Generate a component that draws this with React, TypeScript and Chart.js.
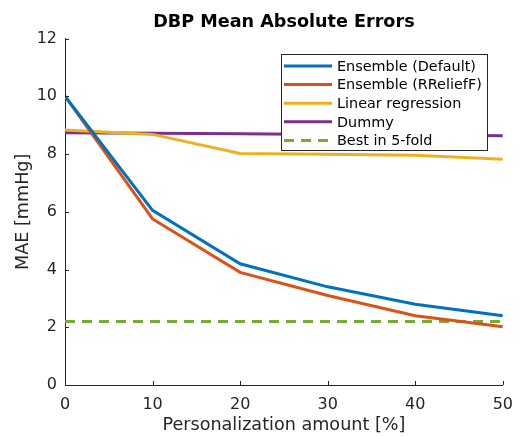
import React, { useEffect, useRef } from 'react';
import { Chart, registerables } from 'chart.js';

Chart.register(...registerables);

const xValues = [0, 10, 20, 30, 40, 50];
const ensembleDefault = [10.0, 6.05, 4.2, 3.4, 2.8, 2.4];
const ensembleRRelieff = [10.0, 5.75, 3.9, 3.1, 2.4, 2.02];
const linearRegression = [8.83, 8.68, 8.02, 7.99, 7.96, 7.82];
const dummy = [8.74, 8.72, 8.7, 8.68, 8.66, 8.63];
const best5Fold = [2.2, 2.2, 2.2, 2.2, 2.2, 2.2];

const seriesLabels = [
  'Ensemble (Default)',
  'Ensemble (RReliefF)',
  'Linear regression',
  'Dummy',
  'Best in 5-fold',
];
const seriesColors = ['#0072BD', '#D95319', '#EDB120', '#7E2F8E', '#77AC30'];
const seriesValues = [ensembleDefault, ensembleRRelieff, linearRegression, dummy, best5Fold];

const xTicks = [0, 10, 20, 30, 40, 50];
const yTicks = [0, 2, 4, 6, 8, 10, 12];

const chartTitle = 'DBP Mean Absolute Errors';
const xTitle = 'Personalization amount [%]';
const yTitle = 'MAE [mmHg]';

const FONT = '"DejaVu Sans", sans-serif';
const AXIS_COLOR = '#262626';

const insideLegend = {
  id: 'insideLegend',
  afterDatasetsDraw(chart: any) {
    const { ctx, chartArea } = chart;
    const boxW = 206;
    const boxH = 96;
    const x0 = Math.round(chartArea.right - 16 - boxW);
    const y0 = Math.round(chartArea.top + 15);
    ctx.save();
    ctx.fillStyle = '#ffffff';
    ctx.fillRect(x0, y0, boxW, boxH);
    ctx.strokeStyle = AXIS_COLOR;
    ctx.lineWidth = 1;
    ctx.strokeRect(x0 + 0.5, y0 + 0.5, boxW, boxH);
    chart.data.datasets.forEach((ds: any, i: number) => {
      const y = y0 + 12 + i * 18.6;
      ctx.beginPath();
      ctx.setLineDash(ds.borderDash || []);
      ctx.strokeStyle = ds.borderColor;
      ctx.lineWidth = ds.borderWidth;
      ctx.moveTo(x0 + 3, y);
      ctx.lineTo(x0 + 51, y);
      ctx.stroke();
      ctx.setLineDash([]);
      ctx.fillStyle = '#000000';
      ctx.font = `14.4px ${FONT}`;
      ctx.textBaseline = 'middle';
      ctx.textAlign = 'left';
      ctx.fillText(ds.label, x0 + 56, y + 1);
    });
    ctx.restore();
  },
};

const inwardTicks = {
  id: 'inwardTicks',
  afterDraw(chart: any) {
    const { ctx, chartArea, scales } = chart;
    const len = 4;
    ctx.save();
    ctx.strokeStyle = AXIS_COLOR;
    ctx.lineWidth = 1;
    ctx.beginPath();
    scales.x.ticks.forEach((t: any) => {
      const px = Math.round(scales.x.getPixelForValue(t.value)) + 0.5;
      ctx.moveTo(px, chartArea.bottom);
      ctx.lineTo(px, chartArea.bottom - len);
    });
    scales.y.ticks.forEach((t: any) => {
      const py = Math.round(scales.y.getPixelForValue(t.value)) + 0.5;
      ctx.moveTo(chartArea.left, py);
      ctx.lineTo(chartArea.left + len, py);
    });
    ctx.stroke();
    ctx.restore();
  },
};

export default function App() {
  const canvasRef = useRef<HTMLCanvasElement | null>(null);

  useEffect(() => {
    if (!canvasRef.current) return;
    Chart.defaults.font.family = FONT;
    const datasets = seriesLabels.map((label, i) => ({
      label,
      data: xValues.map((x, j) => ({ x, y: seriesValues[i][j] })),
      borderColor: seriesColors[i],
      backgroundColor: seriesColors[i],
      borderWidth: 3,
      borderDash: i === 4 ? [10, 7] : [],
      pointRadius: 0,
      tension: 0,
      fill: false,
    }));
    const chart = new Chart(canvasRef.current, {
      type: 'line',
      data: { datasets },
      plugins: [insideLegend, inwardTicks],
      options: {
        animation: false,
        responsive: false,
        devicePixelRatio: 1,
        events: [],
        layout: { padding: { left: 0, right: 19, top: 0, bottom: 0 } },
        plugins: {
          legend: { display: false },
          tooltip: { enabled: false },
          title: {
            display: true,
            text: chartTitle,
            fullSize: false,
            color: '#000000',
            font: { family: FONT, size: 17.6, weight: 'bold' },
            padding: { top: 12, bottom: 5.4 },
          },
        },
        scales: {
          x: {
            type: 'linear',
            min: 0,
            max: 50,
            afterFit: (s: any) => {
              s.height = 51;
            },
            afterBuildTicks: (s: any) => {
              s.ticks = xTicks.map((v) => ({ value: v }));
            },
            grid: { display: false, drawTicks: false },
            border: { display: true, color: AXIS_COLOR, width: 1 },
            ticks: {
              color: AXIS_COLOR,
              font: { family: FONT, size: 16 },
              padding: 10,
              maxRotation: 0,
            },
            title: {
              display: true,
              text: xTitle,
              color: AXIS_COLOR,
              font: { family: FONT, size: 17.6 },
              padding: { top: 0, bottom: 0 },
            },
          },
          y: {
            type: 'linear',
            min: 0,
            max: 12,
            afterFit: (s: any) => {
              s.width = 65;
            },
            afterBuildTicks: (s: any) => {
              s.ticks = yTicks.map((v) => ({ value: v }));
            },
            grid: { display: false, drawTicks: false },
            border: { display: true, color: AXIS_COLOR, width: 1 },
            ticks: {
              color: AXIS_COLOR,
              font: { family: FONT, size: 16 },
              padding: 8,
            },
            title: {
              display: true,
              text: yTitle,
              color: AXIS_COLOR,
              font: { family: FONT, size: 17.6 },
              padding: { top: 13, bottom: 0 },
            },
          },
        },
      },
    } as any);
    return () => chart.destroy();
  }, []);

  return (
    <div style={{ position: 'fixed', left: 0, top: 0, width: 523, height: 436, background: '#fff' }}>
      <canvas ref={canvasRef} width={523} height={436} style={{ width: 523, height: 436 }} />
    </div>
  );
}
